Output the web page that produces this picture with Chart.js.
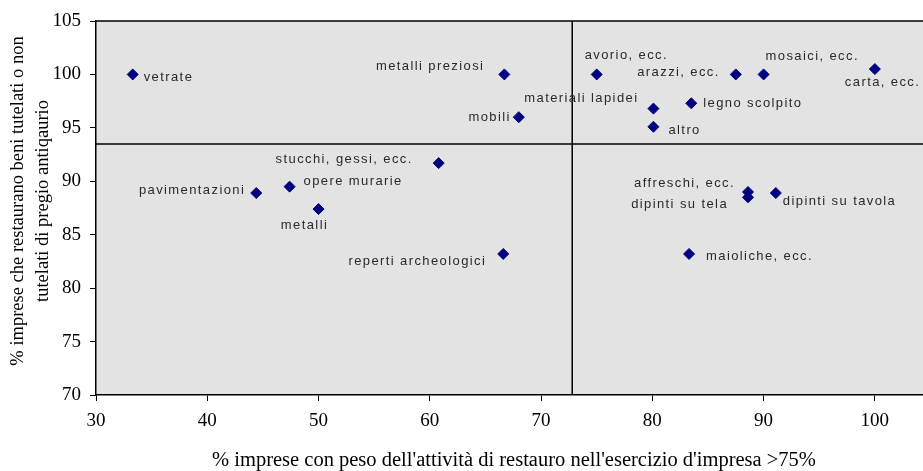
<!DOCTYPE html>
<html>
<head>
<meta charset="utf-8">
<script src="https://cdn.jsdelivr.net/npm/chart.js@4/dist/chart.umd.min.js"></script>
<style>
  html, body { margin: 0; padding: 0; background: #fff; overflow: hidden; }
  #wrap { width: 937px; height: 471px; }
</style>
</head>
<body>
<div id="wrap"><canvas id="myChart"></canvas></div>
<script>
// categories and values
const categories = [
  'vetrate', 'metalli preziosi', 'mobili', 'materiali lapidei', 'avorio, ecc.',
  'arazzi, ecc.', 'mosaici, ecc.', 'carta, ecc.', 'legno scolpito', 'altro',
  'stucchi, gessi, ecc.', 'opere murarie', 'pavimentazioni', 'metalli',
  'reperti archeologici', 'affreschi, ecc.', 'dipinti su tela', 'dipinti su tavola',
  'maioliche, ecc.'
];
const xValues = [33.3, 66.7, 68.0, 80.1, 75.0, 87.5, 90.0, 100.0, 83.5, 80.1,
                 60.8, 47.4, 44.4, 50.0, 66.6, 88.6, 88.6, 91.1, 83.3];
const yValues = [100.0, 100.0, 96.0, 96.8, 100.0, 100.0, 100.0, 100.5, 97.3, 95.1,
                 91.7, 89.5, 88.9, 87.4, 83.2, 89.0, 88.5, 88.9, 83.2];

// quadrant lines (averages)
const crossX = 72.8;
const crossY = 93.5;

// axes
const xMin = 30, xMax = 105;
const yMin = 70, yMax = 105;
const xTicks = [30, 40, 50, 60, 70, 80, 90, 100];
const yTicks = [70, 75, 80, 85, 90, 95, 100, 105];

const xTitle = "% imprese con peso dell'attività di restauro nell'esercizio d'impresa >75%";
const yTitle = ['% imprese che restaurano beni tutelati o non', 'tutelati di pregio antiqaurio'];

// where each point label sits relative to its marker (px)
const labelPos = [
  { a: 'left', dx: 11, dy: 3 },
  { a: 'right', dx: -20, dy: -8 },
  { a: 'right', dx: -8, dy: 0 },
  { a: 'right', dx: -15, dy: -10 },
  { a: 'left', dx: -12, dy: -19 },
  { a: 'right', dx: -16, dy: -2 },
  { a: 'left', dx: 2, dy: -18 },
  { a: 'left', dx: -30, dy: 13 },
  { a: 'left', dx: 12, dy: 0 },
  { a: 'left', dx: 15, dy: 4 },
  { a: 'right', dx: -26, dy: -4 },
  { a: 'left', dx: 14, dy: -5 },
  { a: 'right', dx: -11, dy: -3 },
  { a: 'center', dx: -14, dy: 16 },
  { a: 'right', dx: -17, dy: 7 },
  { a: 'right', dx: -13, dy: -9 },
  { a: 'right', dx: -20, dy: 7 },
  { a: 'left', dx: 7, dy: 8 },
  { a: 'left', dx: 17, dy: 2 }
];

const points = xValues.map((x, i) => ({ x: x, y: yValues[i] }));

const plotBackground = {
  id: 'plotBackground',
  beforeDraw(chart) {
    const { ctx, chartArea: a } = chart;
    ctx.save();
    ctx.fillStyle = '#e3e3e3';
    ctx.fillRect(a.left, a.top, a.right - a.left, a.bottom - a.top);
    ctx.strokeStyle = '#000';
    ctx.lineWidth = 1.5;
    ctx.beginPath();
    ctx.moveTo(a.left, a.top);
    ctx.lineTo(a.right, a.top);
    ctx.stroke();
    ctx.restore();
  }
};

const pointLabels = {
  id: 'pointLabels',
  afterDatasetsDraw(chart) {
    const { ctx } = chart;
    const meta = chart.getDatasetMeta(2);
    ctx.save();
    ctx.font = '13px "Liberation Sans", Arial, sans-serif';
    ctx.letterSpacing = '1.4px';
    ctx.fillStyle = '#2a2a2a';
    ctx.textBaseline = 'middle';
    meta.data.forEach((el, i) => {
      const p = labelPos[i];
      ctx.textAlign = p.a;
      ctx.fillText(categories[i], el.x + p.dx, el.y + p.dy);
    });
    ctx.restore();
  }
};

const axisTitles = {
  id: 'axisTitles',
  afterDraw(chart) {
    const { ctx } = chart;
    ctx.save();
    ctx.fillStyle = '#000';
    ctx.textAlign = 'center';
    ctx.textBaseline = 'middle';
    ctx.font = '20.5px "Liberation Serif", "Times New Roman", serif';
    ctx.fillText(xTitle, 514, 461);
    ctx.font = '18.5px "Liberation Serif", "Times New Roman", serif';
    ctx.translate(0, 201);
    ctx.rotate(-Math.PI / 2);
    ctx.fillText(yTitle[0], 0, 18);
    ctx.fillText(yTitle[1], 0, 43);
    ctx.restore();
  }
};

const ctx = document.getElementById('myChart').getContext('2d');
const chart = new Chart(ctx, {
  type: 'scatter',
  data: {
    datasets: [
      {
        // vertical quadrant line
        data: [{ x: crossX, y: yMin }, { x: crossX, y: yMax }],
        showLine: true,
        borderColor: '#000',
        borderWidth: 1.5,
        pointRadius: 0
      },
      {
        // horizontal quadrant line
        data: [{ x: xMin, y: crossY }, { x: xMax, y: crossY }],
        showLine: true,
        borderColor: '#000',
        borderWidth: 1.5,
        pointRadius: 0
      },
      {
        data: points,
        pointStyle: 'rectRot',
        pointRadius: 5.5,
        backgroundColor: '#000080',
        borderColor: '#000080',
        borderWidth: 1
      }
    ]
  },
  options: {
    responsive: true,
    maintainAspectRatio: false,
    animation: false,
    layout: { padding: { top: 21, right: 4, left: 0, bottom: 0 } },
    plugins: {
      legend: { display: false },
      tooltip: { enabled: false }
    },
    scales: {
      x: {
        type: 'linear',
        min: xMin,
        max: xMax,
        afterBuildTicks: (s) => { s.ticks = xTicks.map(v => ({ value: v })); },
        afterFit: (s) => { s.height = 76; },
        border: { display: true, color: '#000', width: 1.5 },
        grid: { drawOnChartArea: false, drawTicks: true, tickLength: 6, color: '#000' },
        ticks: {
          color: '#000',
          padding: 9,
          maxRotation: 0,
          font: { family: '"Liberation Serif", "Times New Roman", serif', size: 19 }
        }
      },
      y: {
        type: 'linear',
        min: yMin,
        max: yMax,
        afterBuildTicks: (s) => { s.ticks = yTicks.map(v => ({ value: v })); },
        afterFit: (s) => { s.width = 96; },
        border: { display: true, color: '#000', width: 1.5 },
        grid: { drawOnChartArea: false, drawTicks: true, tickLength: 6, color: '#000' },
        ticks: {
          color: '#000',
          padding: 9,
          font: { family: '"Liberation Serif", "Times New Roman", serif', size: 19 }
        }
      }
    }
  },
  plugins: [plotBackground, pointLabels, axisTitles]
});
</script>
</body>
</html>
